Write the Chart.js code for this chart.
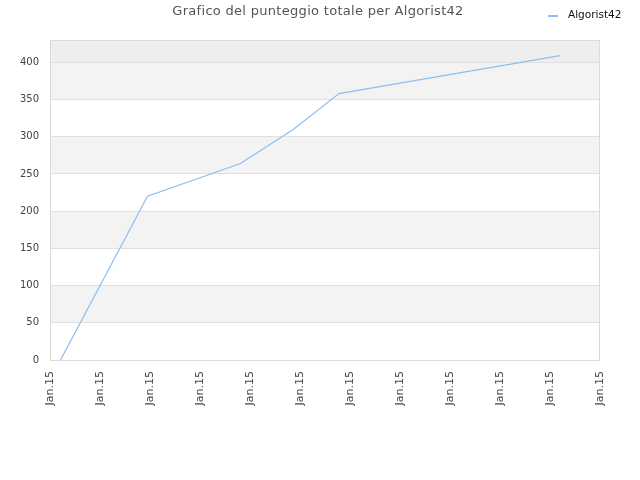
<!DOCTYPE html>
<html>
<head>
<meta charset="utf-8">
<script src="https://cdn.jsdelivr.net/npm/chart.js@4/dist/chart.umd.min.js"></script>
<style>
  html, body { margin: 0; padding: 0; background: #fff; }
  #wrap { width: 640px; height: 480px; }
</style>
</head>
<body>
<div id="wrap"><canvas id="scoreChart"></canvas></div>
<script>
// values
const chartTitle = 'Grafico del punteggio totale per Algorist42';
const seriesName = 'Algorist42';
const tickLabels = ['Jan.15', 'Jan.15', 'Jan.15', 'Jan.15', 'Jan.15', 'Jan.15',
                    'Jan.15', 'Jan.15', 'Jan.15', 'Jan.15', 'Jan.15', 'Jan.15'];
const xPositions = [0.21, 1.95, 3.81, 4.87, 5.78, 10.2];
const scores = [0, 220, 264, 310, 358, 409];

const lineColor = 'rgb(140, 190, 240)';

// alternating bands behind the plot, plus frame, title and legend
const decor = {
  id: 'decor',
  beforeDraw(chart) {
    const { ctx, chartArea: a, scales: { y } } = chart;
    ctx.save();
    ctx.fillStyle = '#eeeeee';
    ctx.fillRect(a.left, a.top, a.right - a.left, y.getPixelForValue(400) - a.top);
    for (let v = 0, i = 0; v < 400; v += 50, i++) {
      if (i % 2 === 0) continue;
      const top = y.getPixelForValue(v + 50), bot = y.getPixelForValue(v);
      ctx.fillStyle = '#f3f3f3';
      ctx.fillRect(a.left, top, a.right - a.left, bot - top);
    }
    ctx.restore();
  },
  afterDraw(chart) {
    const { ctx, chartArea: a } = chart;
    ctx.save();
    ctx.strokeStyle = '#dadada';
    ctx.lineWidth = 1;
    ctx.strokeRect(a.left + 0.5, a.top + 0.5, a.right - a.left - 1, a.bottom - a.top);

    ctx.fillStyle = '#555';
    ctx.font = '13px "DejaVu Sans"';
    ctx.letterSpacing = '0.3px';
    ctx.textAlign = 'center';
    ctx.textBaseline = 'middle';
    ctx.fillText(chartTitle, 318, 12);
    ctx.letterSpacing = '0px';

    const ds = chart.data.datasets[0];
    ctx.strokeStyle = ds.borderColor;
    ctx.lineWidth = 2;
    ctx.beginPath();
    ctx.moveTo(548, 16);
    ctx.lineTo(558, 16);
    ctx.stroke();
    ctx.fillStyle = '#111';
    ctx.font = '10.5px "DejaVu Sans"';
    ctx.textAlign = 'left';
    ctx.fillText(ds.label, 568, 15);
    ctx.restore();
  }
};

new Chart(document.getElementById('scoreChart'), {
  type: 'line',
  data: {
    datasets: [{
      label: seriesName,
      data: xPositions.map((x, i) => ({ x: x, y: scores[i] })),
      borderColor: lineColor,
      backgroundColor: lineColor,
      borderWidth: 1.2,
      pointRadius: 0,
      tension: 0,
      fill: false
    }]
  },
  options: {
    responsive: true,
    maintainAspectRatio: false,
    animation: false,
    layout: { padding: { top: 40, right: 40, left: 0, bottom: 0 } },
    plugins: {
      legend: { display: false },
      title: { display: false },
      tooltip: { enabled: false }
    },
    scales: {
      x: {
        type: 'linear',
        min: 0,
        max: tickLabels.length - 1,
        afterFit: s => { s.height = 120; },
        grid: { display: false, drawTicks: false },
        border: { display: false },
        ticks: {
          stepSize: 1,
          autoSkip: false,
          minRotation: 90,
          maxRotation: 90,
          padding: 11,
          color: '#444',
          font: { family: 'DejaVu Sans', size: 11 },
          callback: v => tickLabels[v]
        }
      },
      y: {
        min: 0,
        max: 430,
        afterFit: s => { s.width = 50; },
        grid: { color: '#e0e0e0', drawTicks: false },
        border: { display: false },
        ticks: {
          stepSize: 50,
          includeBounds: false,
          padding: 11,
          color: '#444',
          font: { family: 'DejaVu Sans', size: 10 }
        }
      }
    }
  },
  plugins: [decor]
});
</script>
</body>
</html>
